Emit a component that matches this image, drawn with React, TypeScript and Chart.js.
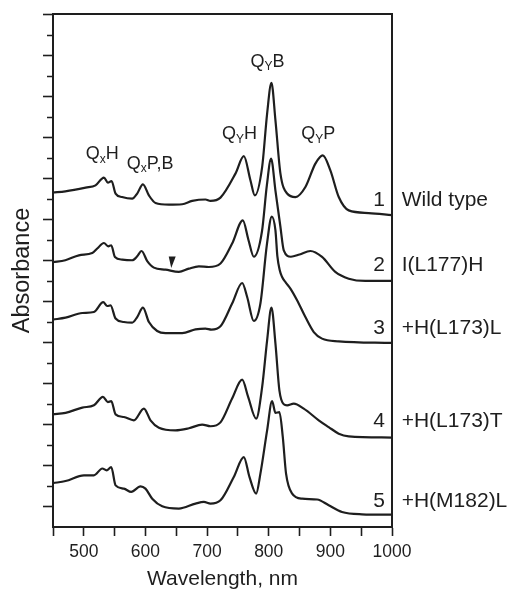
import { useEffect, useRef } from "react";
import { Chart, registerables } from "chart.js";

Chart.register(...registerables);

const FONT = '"Liberation Sans", Arial, Helvetica, sans-serif';
const INK = "#1e1e1e";

// Spectrum 1 – Wild type
const wl1 = [450, 470, 503, 519, 532.6, 539, 545, 551.5, 562, 578.5, 586.6, 595.9, 605.6, 616.3, 638, 659.6, 675.8, 697.4, 705.5, 721.7, 746, 759.6, 770.3, 777.4, 789.3, 797.4, 804.4, 810.9, 819, 829.8, 843.3, 859.5, 875.7, 887.7, 900, 913.6, 929.8, 962.2, 1000];
const abs1 = [16.3, 16.36, 16.54, 16.65, 17.03, 16.78, 16.86, 16.25, 16.08, 16.0, 16.25, 16.7, 16.16, 15.79, 15.71, 15.73, 15.89, 15.96, 15.89, 16.05, 17.22, 18.07, 16.9, 16.16, 17.54, 20.15, 21.64, 19.82, 17.22, 16.25, 16.08, 16.57, 17.71, 18.11, 17.38, 16.08, 15.43, 15.3, 15.2];

// Spectrum 2 – I(L177)H
const wl2 = [450, 470, 492, 513.7, 521.8, 532.6, 539.6, 544.5, 550.5, 562.3, 578.5, 586.6, 593.7, 602.9, 613.7, 632.5, 654.2, 670.4, 686.6, 702.8, 721.7, 740.6, 758, 767, 775.8, 789, 797, 803.8, 811, 819, 824.4, 836, 850, 867.6, 886.5, 908, 929.8, 956.7, 1000];
const abs2 = [12.91, 13.0, 13.24, 13.35, 13.57, 13.84, 13.68, 13.73, 13.16, 13.03, 13.0, 13.19, 13.45, 12.96, 12.64, 12.54, 12.43, 12.59, 12.7, 12.67, 12.84, 13.81, 14.94, 14.0, 13.17, 14.4, 16.66, 17.95, 16.37, 14.62, 13.48, 13.17, 13.28, 13.45, 13.16, 12.43, 12.1, 11.99, 11.99];

// Spectrum 3 – +H(L173)L
const wl3 = [450, 470.4, 497.5, 516.4, 531.5, 538, 543.4, 551.5, 565, 578.5, 586.6, 595.9, 605.6, 619, 632.5, 659.6, 681.2, 697.4, 707.1, 721.7, 740.6, 756.9, 765, 775.8, 786.5, 797, 805, 810.9, 814, 818, 821.7, 828, 835.2, 846, 859.5, 873.1, 886.5, 913.6, 1000];
const abs3 = [10.11, 10.2, 10.43, 10.48, 10.96, 10.77, 10.8, 10.16, 9.99, 9.96, 10.23, 10.69, 9.99, 9.55, 9.45, 9.45, 9.63, 9.67, 9.62, 9.78, 10.89, 11.89, 11.21, 10.04, 10.89, 13.76, 15.13, 14.45, 13.2, 12.5, 12.18, 11.9, 11.62, 11.05, 10.23, 9.5, 9.18, 9.05, 8.97];

// Spectrum 4 – +H(L173)T
const wl4 = [450, 470.4, 497.5, 516.4, 531, 539, 544.5, 551.5, 565, 581.2, 597.5, 608.2, 621.8, 648.7, 670.4, 692, 705.5, 721.7, 740.6, 756.9, 766.6, 779.6, 789.3, 797.4, 804.4, 810.9, 817.3, 824.4, 829.8, 840.6, 856.8, 881.1, 897.3, 913.6, 929.8, 1000];
const abs4 = [5.49, 5.56, 5.82, 5.93, 6.34, 6.09, 6.13, 5.49, 5.36, 5.2, 5.77, 5.2, 4.84, 4.71, 4.81, 4.99, 4.91, 5.1, 6.26, 7.18, 6.34, 5.28, 6.82, 9.1, 10.69, 8.94, 6.66, 5.98, 5.93, 6.01, 5.77, 5.2, 4.87, 4.55, 4.42, 4.36];

// Spectrum 5 – +H(M182)L
const wl5 = [450, 470.4, 500.2, 516.4, 530, 537, 544.5, 551.5, 565, 577, 592, 600, 611, 627.2, 654.2, 681.2, 694.8, 705.5, 721.7, 743.3, 759.6, 768.7, 779.6, 786.5, 797.4, 805.5, 810.9, 817.3, 822.8, 828.1, 838, 854.2, 878.6, 897.3, 918.9, 951.3, 1000];
const abs5 = [2.14, 2.24, 2.52, 2.52, 2.85, 2.76, 2.92, 2.03, 1.87, 1.71, 1.98, 1.87, 1.38, 1.01, 0.9, 1.14, 1.22, 1.14, 1.3, 2.44, 3.41, 2.44, 1.63, 2.6, 4.71, 6.14, 5.56, 5.6, 4.39, 2.6, 1.63, 1.38, 1.34, 1.06, 0.73, 0.62, 0.6];

const seriesX = [wl1, wl2, wl3, wl4, wl5];
const seriesY = [abs1, abs2, abs3, abs4, abs5];

// Axis ticks
const xTickValues = [450, 500, 550, 600, 650, 700, 750, 800, 850, 900, 950, 1000];
const xLabelled = [500, 600, 700, 800, 900, 1000];
const yMajorTicks = [1, 3, 5, 7, 9, 11, 13, 15, 17, 19, 21, 23, 25];
const yMinorTicks = [2, 4, 6, 8, 10, 12, 14, 16, 18, 20, 22, 24];

// Curve labels (number + name), positioned in data coordinates
const curveNumbers = ["1", "2", "3", "4", "5"];
const curveNames = ["Wild type", "I(L177)H", "+H(L173)L", "+H(L173)T", "+H(M182)L"];
const curveLabelY = [15.91, 12.74, 9.68, 5.15, 1.25];
const numberX = 988.7;
const nameX = 1015.7;

// Band annotations: [main, subscript, rest]
const bandMain = ["Q", "Q", "Q", "Q", "Q"];
const bandSub = ["x", "x", "Y", "Y", "Y"];
const bandRest = ["H", "P,B", "H", "B", "P"];
const bandX = [529.9, 607.7, 752.5, 798.2, 880.5];
const bandY = [18.16, 17.71, 19.14, 22.66, 19.14];

// Arrowhead marker on spectrum 2
const arrowX = 641;
const arrowY = 12.62;

const decorPlugin = {
  id: "decor",
  afterDraw(chart: any) {
    const { ctx, chartArea, scales } = chart;
    const xs = scales.x;
    const ys = scales.y;
    ctx.save();
    // frame top & right
    ctx.strokeStyle = INK;
    ctx.lineWidth = 2;
    ctx.beginPath();
    ctx.moveTo(chartArea.left, chartArea.top);
    ctx.lineTo(chartArea.right, chartArea.top);
    ctx.lineTo(chartArea.right, chartArea.bottom);
    ctx.stroke();
    // minor y ticks
    ctx.lineWidth = 1.6;
    ctx.beginPath();
    for (const v of yMinorTicks) {
      const py = Math.round(ys.getPixelForValue(v)) + 0.5;
      ctx.moveTo(chartArea.left - 6, py);
      ctx.lineTo(chartArea.left, py);
    }
    ctx.stroke();

    ctx.fillStyle = INK;
    ctx.textBaseline = "middle";
    // curve numbers & names
    ctx.font = `21px ${FONT}`;
    for (let i = 0; i < curveNumbers.length; i++) {
      const py = ys.getPixelForValue(curveLabelY[i]);
      ctx.textAlign = "right";
      ctx.fillText(curveNumbers[i], xs.getPixelForValue(numberX), py);
      ctx.textAlign = "left";
      ctx.fillText(curveNames[i], xs.getPixelForValue(nameX), py);
    }
    // band annotations with subscripts
    ctx.textAlign = "left";
    for (let i = 0; i < bandMain.length; i++) {
      const big = `18px ${FONT}`;
      const small = `12px ${FONT}`;
      ctx.font = big;
      const w1 = ctx.measureText(bandMain[i]).width;
      const w3 = ctx.measureText(bandRest[i]).width;
      ctx.font = small;
      const w2 = ctx.measureText(bandSub[i]).width;
      const total = w1 + w2 + w3;
      const cx = xs.getPixelForValue(bandX[i]);
      const cy = ys.getPixelForValue(bandY[i]);
      let x = cx - total / 2;
      ctx.font = big;
      ctx.fillText(bandMain[i], x, cy);
      x += w1;
      ctx.font = small;
      ctx.fillText(bandSub[i], x, cy + 5);
      x += w2;
      ctx.font = big;
      ctx.fillText(bandRest[i], x, cy);
    }
    // arrowhead
    const ax = xs.getPixelForValue(arrowX);
    const ay = ys.getPixelForValue(arrowY);
    ctx.beginPath();
    ctx.moveTo(ax - 2, ay - 11.5);
    ctx.lineTo(ax + 5, ay - 11.5);
    ctx.lineTo(ax + 0.5, ay);
    ctx.closePath();
    ctx.fill();
    ctx.restore();
  },
};

export default function App() {
  const canvasRef = useRef<HTMLCanvasElement | null>(null);

  useEffect(() => {
    if (!canvasRef.current) return;
    const datasets = seriesX.map((xs, k) => ({
      label: curveNames[k],
      data: xs.map((x, i) => ({ x, y: seriesY[k][i] })),
      borderColor: INK,
      borderWidth: 2.2,
      pointRadius: 0,
      fill: false,
      cubicInterpolationMode: "monotone" as const,
    }));
    const chart = new Chart(canvasRef.current, {
      type: "line",
      data: { datasets },
      options: {
        animation: false,
        responsive: false,
        devicePixelRatio: 1,
        layout: { padding: { left: 0, right: 117, top: 14, bottom: 0 } },
        plugins: { legend: { display: false }, tooltip: { enabled: false } },
        scales: {
          x: {
            type: "linear",
            min: 450,
            max: 1000,
            afterBuildTicks: (s: any) => {
              s.ticks = xTickValues.map((v) => ({ value: v }));
            },
            afterFit: (s: any) => {
              s.height = 63;
            },
            ticks: {
              autoSkip: false,
              maxRotation: 0,
              padding: 6,
              color: INK,
              font: { size: 17.5, family: FONT },
              callback: (v: any) => (xLabelled.includes(Number(v)) ? String(v) : ""),
            },
            grid: { drawOnChartArea: false, tickLength: 9, tickWidth: 1.6, tickColor: INK },
            border: { color: INK, width: 2 },
            title: {
              display: true,
              text: "Wavelength, nm",
              color: INK,
              font: { size: 21, family: FONT, lineHeight: 1 },
              padding: 0,
            },
          },
          y: {
            type: "linear",
            min: 0,
            max: 25,
            afterBuildTicks: (s: any) => {
              s.ticks = yMajorTicks.map((v) => ({ value: v }));
            },
            afterFit: (s: any) => {
              s.width = 53;
            },
            ticks: { display: false },
            grid: { drawOnChartArea: false, tickLength: 10, tickWidth: 1.6, tickColor: INK },
            border: { color: INK, width: 2 },
            title: {
              display: true,
              text: "Absorbance",
              color: INK,
              font: { size: 23.5, family: FONT, lineHeight: 1 },
              padding: { top: 11, bottom: 0 },
            },
          },
        },
      },
      plugins: [decorPlugin],
    });
    return () => chart.destroy();
  }, []);

  return (
    <div style={{ position: "absolute", left: 0, top: 0, width: 509, height: 590, background: "#fff" }}>
      <canvas ref={canvasRef} width={509} height={590} style={{ width: 509, height: 590 }} />
    </div>
  );
}
